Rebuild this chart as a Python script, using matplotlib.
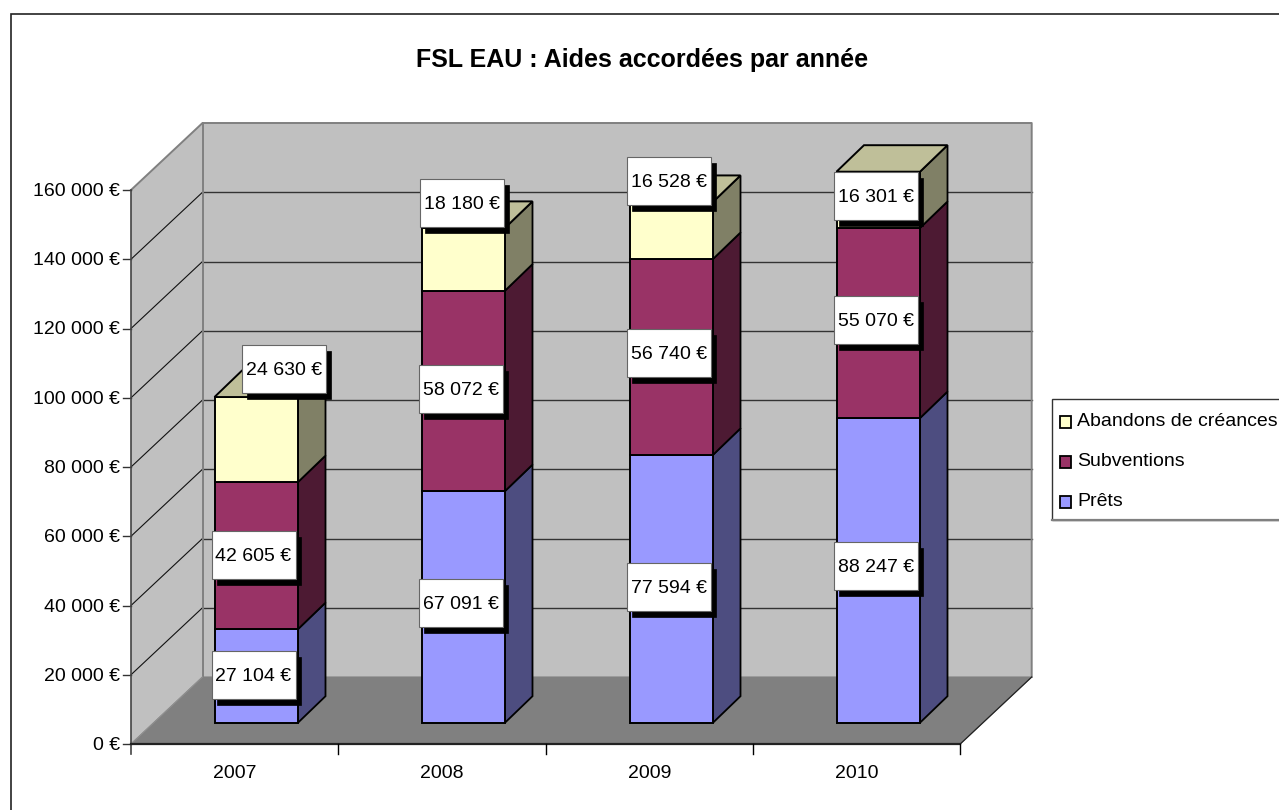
import matplotlib
matplotlib.use("Agg")
import matplotlib.pyplot as plt
from matplotlib.patches import Polygon, Rectangle

years = ["2007", "2008", "2009", "2010"]
prets = [27104, 67091, 77594, 88247]
subventions = [42605, 58072, 56740, 55070]
abandons = [24630, 18180, 16528, 16301]
series_names = ["Prêts", "Subventions", "Abandons de créances"]
y_ticks = [0, 20000, 40000, 60000, 80000, 100000, 120000, 140000, 160000]

plt.rcParams['font.family'] = ['Liberation Sans', 'DejaVu Sans']

def fr(v):
    return f"{v:,}".replace(",", " ") + " €"

fig = plt.figure(figsize=(12.79, 8.10), dpi=100)
ax = fig.add_axes([0, 0, 1, 1])
ax.set_xlim(0, 1279); ax.set_ylim(810, 0); ax.axis("off")

X0, Y0 = 131, 744
PW = 207.3           # width of a category on the front axis
PX = 554 / 160000    # pixels per euro on the front axis
BX = 0.003452        # pixels per euro for the bars
DX, DY = 71.5, -67   # depth of the box
BAR_W, BAR_DX, BAR_DY = 83.5, 27.5, -26.5
BAR_BASE = 722.7
BAR_LEFT = [214.5, 421.5, 629.5, 836.5]
FS = 14

def vy(v):
    return Y0 - v * PX

# frame (runs off the right and bottom of the picture)
ax.add_patch(Rectangle((10.5, 14), 1290, 810, fc="white", ec="#222222", lw=1.2, zorder=0))

# walls and floor
ax.add_patch(Polygon([(X0 + DX, vy(0) + DY), (X0 + 4 * PW + DX, vy(0) + DY),
                      (X0 + 4 * PW + DX, vy(160000) + DY), (X0 + DX, vy(160000) + DY)],
                     fc="#c0c0c0", ec="none", zorder=1))
ax.add_patch(Polygon([(X0, vy(0)), (X0 + DX, vy(0) + DY), (X0 + DX, vy(160000) + DY), (X0, vy(160000))],
                     fc="#c0c0c0", ec="none", zorder=1))
ax.add_patch(Polygon([(X0, vy(0)), (X0 + 4 * PW, vy(0)), (X0 + 4 * PW + DX, vy(0) + DY), (X0 + DX, vy(0) + DY)],
                     fc="#808080", ec="#808080", lw=0.8, zorder=1))

# gridlines, y axis
for t in y_ticks:
    y = vy(t)
    if 0 < t < 160000:
        ax.plot([X0, X0 + DX], [y, y + DY], color="#111111", lw=0.8, zorder=2)
        ax.plot([X0 + DX, X0 + 4 * PW + DX], [y + DY, y + DY], color="#333333", lw=1.0, zorder=2)
    ax.plot([X0 - 8, X0], [y, y], color="#333333", lw=1.0, zorder=3)
    ax.text(120, y + 1.5, fr(t), ha="right", va="center", fontsize=FS, color="black", zorder=3)
# wall edges
top = vy(160000)
ax.plot([X0, X0 + DX, X0 + 4 * PW + DX, X0 + 4 * PW + DX],
        [top, top + DY, top + DY, vy(0) + DY], color="#808080", lw=1.4, zorder=2.5)
ax.plot([X0 + DX, X0 + DX], [top + DY, vy(0) + DY], color="#808080", lw=1.4, zorder=2.5)
ax.plot([X0, X0 + DX], [vy(0), vy(0) + DY], color="#909090", lw=0.8, zorder=2.5)
ax.plot([X0 + 4 * PW, X0 + 4 * PW + DX], [vy(0), vy(0) + DY], color="#222222", lw=0.9, zorder=2.5)
ax.plot([X0, X0], [vy(0) + 10, top], color="#444444", lw=1.2, zorder=3)
ax.plot([X0, X0 + 4 * PW], [vy(0), vy(0)], color="#222222", lw=1.6, zorder=3)
for i in range(1, 5):
    ax.plot([X0 + i * PW] * 2, [vy(0), vy(0) + 10], color="black", lw=1.0, zorder=3)
for i, yr in enumerate(years):
    ax.text(X0 + (i + 0.5) * PW, 774, yr, ha="center", va="center", fontsize=FS, zorder=3)

# bars
faces = [("#9999ff", "#4d4d80"),
         ("#993366", "#4d1a33"),
         ("#ffffcc", "#808066")]
for i in range(len(years)):
    bottom = 0
    left = BAR_LEFT[i]
    r = left + BAR_W
    for s, v in enumerate([prets[i], subventions[i], abandons[i]]):
        yb = BAR_BASE - bottom * BX
        yt = BAR_BASE - (bottom + v) * BX
        ax.add_patch(Polygon([(r, yb), (r + BAR_DX, yb + BAR_DY), (r + BAR_DX, yt + BAR_DY), (r, yt)],
                             fc=faces[s][1], ec="black", lw=1.3, zorder=4))
        ax.add_patch(Polygon([(left, yb), (r, yb), (r, yt), (left, yt)],
                             fc=faces[s][0], ec="black", lw=1.4, zorder=5))
        bottom += v
    yt = BAR_BASE - bottom * BX
    ax.add_patch(Polygon([(left, yt), (r, yt), (r + BAR_DX, yt + BAR_DY), (left + BAR_DX, yt + BAR_DY)],
                         fc="#bfbf99", ec="black", lw=1.4, zorder=5))

# data labels
label_values = prets + subventions + abandons
label_centres = [(253.5, 675), (461, 603), (669, 587), (876, 566),
                 (253.5, 555), (461, 389), (669, 353), (876, 320),
                 (284, 369), (462, 203), (669, 181), (875.5, 196)]
BW, BH = 84, 48
for v, (cx, cy) in zip(label_values, label_centres):
    ax.add_patch(Rectangle((cx - BW / 2 + 5, cy - BH / 2 + 5.5), BW, BH, fc="black", ec="black", lw=0.5, zorder=6))
    ax.add_patch(Rectangle((cx - BW / 2, cy - BH / 2), BW, BH, fc="white", ec="#666666", lw=0.8, zorder=7))
    ax.text(cx, cy + 1.5, fr(v), ha="center", va="center", fontsize=FS, zorder=8)

# title
ax.text(642, 60, "FSL EAU : Aides accordées par année", ha="center", va="center",
        fontsize=18, fontweight="bold", zorder=8)

# legend
ax.add_patch(Rectangle((1051.5, 399), 260, 121, fc="white", ec="#333333", lw=1.0, zorder=3))
ax.plot([1051.5, 1279], [520, 520], color="#808080", lw=1.6, zorder=3)
for name, col, ys, yt in zip(series_names, ["#9999ff", "#993366", "#ffffcc"],
                             [502, 461.5, 421.5], [501, 461, 421]):
    ax.add_patch(Rectangle((1059.5, ys - 6), 11, 12, fc=col, ec="black", lw=1.3, zorder=4))
    ax.text(1077, yt, name, ha="left", va="center", fontsize=FS, zorder=4)

fig.savefig("out.png", dpi=100)
